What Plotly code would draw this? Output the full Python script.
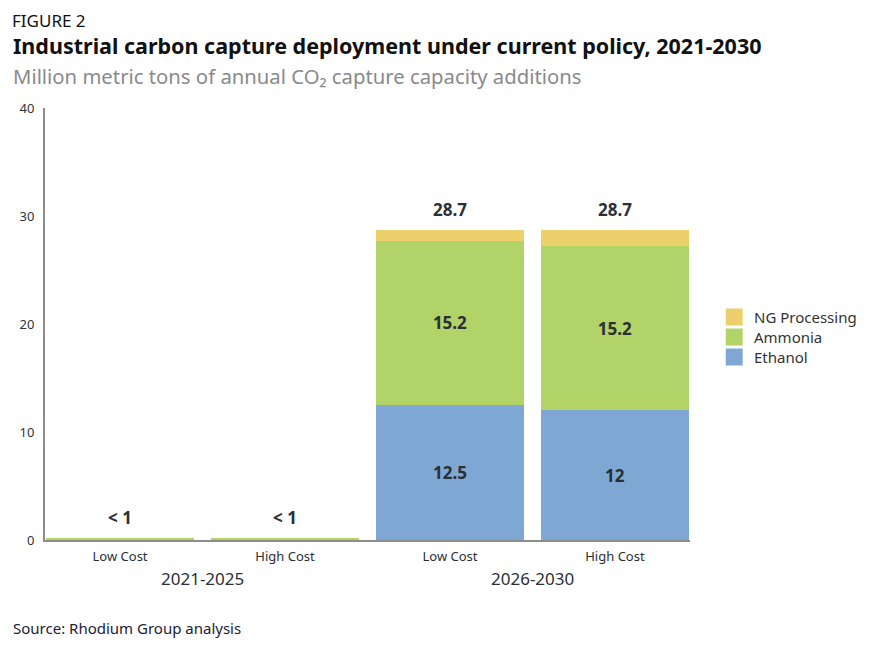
import plotly.graph_objects as go

periods = ["2021-2025", "2021-2025", "2026-2030", "2026-2030"]
costs = ["Low Cost", "High Cost", "Low Cost", "High Cost"]
ethanol = [0.05, 0.05, 12.5, 12.0]
ammonia = [0.15, 0.15, 15.2, 15.2]
ng_processing = [0.0, 0.0, 1.0, 1.5]
total_labels = ["< 1", "< 1", "28.7", "28.7"]
ethanol_labels = ["", "", "12.5", "12"]
ammonia_labels = ["", "", "15.2", "15.2"]

ids = [p + " " + c for p, c in zip(periods, costs)]
FONT = "Noto Sans"
DARK = "#2b2f36"

series = [
    ("Ethanol", ethanol, "#7ea8d3", ethanol_labels),
    ("Ammonia", ammonia, "#b2d367", ammonia_labels),
    ("NG Processing", ng_processing, "#ebd06b", [""] * 4),
]

fig = go.Figure()
for name, vals, color, labels in series:
    fig.add_trace(go.Bar(
        x=ids, y=vals, name=name, marker=dict(color=color, line=dict(width=0)),
        text=labels, textposition="inside", insidetextanchor="middle",
        textfont=dict(family=FONT, size=17, color=DARK, weight="bold"),
        textangle=0, hoverinfo="skip", showlegend=False,
    ))

# page offset (body margin) of 8px
OFF = 8
W, H = 873, 652
L, R, T, B = 41 - OFF, 873 - (690 - OFF), 108 - OFF, 652 - (540 - OFF)

def px_x(v):
    return (v - OFF - L) / (W - L - R)

def px_y(v):
    return (H - B - (v - OFF)) / (H - T - B)

totals = [e + a + n for e, a, n in zip(ethanol, ammonia, ng_processing)]
for xid, t, lab in zip(ids, totals, total_labels):
    fig.add_annotation(x=xid, y=t, text=lab, showarrow=False, yanchor="bottom",
                       yshift=7, font=dict(family=FONT, size=17, color=DARK, weight="bold"))

# group labels centred under each period's bars
for p in dict.fromkeys(periods):
    idx = [i for i, q in enumerate(periods) if q == p]
    fig.add_annotation(x=sum(idx) / len(idx), y=0, xref="x", yref="y", text=p,
                       showarrow=False, yanchor="top", yshift=-25,
                       font=dict(family=FONT, size=17, color=DARK))

# FIGURE 2 label anchored at the top of the figure
fig.add_annotation(x=px_x(7), y=px_y(OFF), xref="paper", yref="paper", text="FIGURE 2",
                   showarrow=False, xanchor="left", yanchor="top", borderpad=0,
                   font=dict(family=FONT, size=17, color="#111111"))

for txt, y, size, color, bold in [
    ("Industrial carbon capture deployment under current policy, 2021-2030", 46, 21.5, "#111111", True),
    ("Million metric tons of annual CO₂ capture capacity additions", 76, 20.3, "#8a8a8a", False),
    ("Source: Rhodium Group analysis", 628, 15, "#1c2233", False),
]:
    fig.add_annotation(x=px_x(7), y=px_y(y), xref="paper", yref="paper", text=txt,
                       showarrow=False, xanchor="left", yanchor="middle",
                       font=dict(family=FONT, size=size, color=color,
                                 weight="bold" if bold else "normal"))

# custom legend (top to bottom: NG Processing, Ammonia, Ethanol)
for k, (name, _, color, _) in enumerate(reversed(series)):
    cy = 317 + 20 * k
    fig.add_shape(type="rect", xref="paper", yref="paper",
                  x0=px_x(726), x1=px_x(743), y0=px_y(cy - 8.5), y1=px_y(cy + 8.5),
                  fillcolor=color, line=dict(width=0))
    fig.add_annotation(x=px_x(752), y=px_y(cy), xref="paper", yref="paper", text=name,
                       showarrow=False, xanchor="left", yanchor="middle",
                       font=dict(family=FONT, size=15, color="#333333"))

fig.update_layout(
    width=W, height=H, barmode="stack", bargap=0.10,
    margin=dict(l=L, r=R, t=T, b=B),
    paper_bgcolor="white", plot_bgcolor="white",
    showlegend=False,
    font=dict(family=FONT),
)
fig.update_xaxes(
    type="category", range=[-0.455, 3.455], showline=True, linecolor="#8c8c8c", linewidth=2,
    tickmode="array", tickvals=ids, ticktext=costs, ticks="", ticklabelstandoff=3,
    tickfont=dict(family=FONT, size=13, color=DARK), showgrid=False, zeroline=False,
)
fig.update_yaxes(
    range=[0, 40], tickvals=[0, 10, 20, 30, 40], showline=True, linecolor="#8c8c8c",
    linewidth=2, showgrid=False, zeroline=False, ticks="", ticklabelstandoff=6,
    tickfont=dict(family=FONT, size=13, color="#333333"),
)
fig.write_html("out.html")
